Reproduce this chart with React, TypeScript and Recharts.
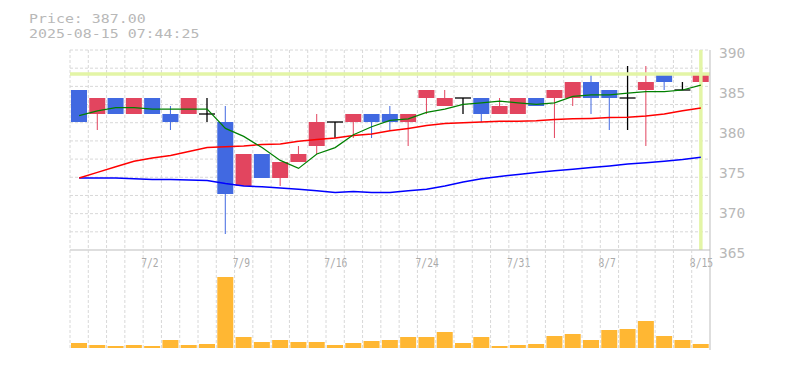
import React from 'react';
import { ComposedChart, Bar, Line, XAxis, YAxis, CartesianGrid, ReferenceLine } from 'recharts';

const dates = ['6/26','6/27','6/30','7/1','7/2','7/3','7/4','7/7','7/8','7/9','7/10','7/11','7/14','7/15','7/16','7/17','7/18','7/22','7/23','7/24','7/25','7/28','7/29','7/30','7/31','8/1','8/4','8/5','8/6','8/7','8/8','8/12','8/13','8/14','8/15'];
const opens  = [385,382,384,382,384,382,382,382,381,373,377,374,376,378,381,381,382,382,381,384,383,384,384,382,382,384,384,384,386,385,384,385,387,385,386];
const highs  = [385,384,384,384,384,383,384,384,383,377,377,376,378,382,381,382,382,383,382,385,385,384,384,384,384,384,385,386,387,385,388,388,387,386,387];
const lows   = [381,380,382,382,382,380,382,381,367,373,374,373,376,377,379,379,379,380,378,382,383,382,381,382,382,383,379,383,382,380,380,378,385,385,385];
const closes = [381,384,382,384,382,381,384,382,372,377,374,376,377,381,381,382,381,381,382,385,384,384,382,383,384,383,385,386,384,384,384,386,386,385,387];
const volumes = [5,3,2,3,2,8,3,4,71,11,6,8,6,6,3,5,7,8,11,11,16,5,11,2,3,4,12,14,8,18,19,27,12,8,4];
const ma5  = [381.8,382.4,382.8,382.8,382.6,382.6,382.6,382.6,380.2,379.2,377.8,376.2,375.2,377.0,377.8,379.4,380.4,381.2,381.4,382.2,382.6,383.2,383.4,383.6,383.4,383.2,383.4,384.2,384.4,384.4,384.6,384.8,384.8,385.0,385.6];
const ma25 = [374.0,374.7,375.4,376.1,376.5,376.8,377.3,377.8,377.9,378.0,378.2,378.25,378.6,378.8,379.0,379.3,379.5,379.9,380.2,380.55,380.8,380.9,381.0,381.1,381.1,381.15,381.3,381.4,381.45,381.55,381.6,381.75,382.0,382.4,382.75];
const ma75 = [374.0,374.0,374.0,373.9,373.8,373.8,373.75,373.7,373.3,373.0,372.9,372.75,372.6,372.4,372.2,372.3,372.2,372.2,372.4,372.6,373.0,373.5,373.9,374.2,374.45,374.7,374.9,375.1,375.3,375.5,375.75,375.9,376.1,376.3,376.6];
const tickLabels = ['7/2','7/9','7/16','7/24','7/31','8/7','8/15'];
const priceTicks = [365,370,375,380,385,390];
const lastPrice = 387;
const lastDate = '8/15';
const headerPrice = 'Price: 387.00';
const headerTime = '2025-08-15 07:44:25';

const RED = '#e2455f';
const BLUE = '#4169e1';
const GRID = '#d8d8d8';
const AXIS = '#bdbdbd';
const TEXT = '#b8b8b8';
const MONO = '"DejaVu Sans Mono", "Liberation Mono", monospace';

const data = dates.map((d, i) => ({
  date: d,
  open: opens[i],
  high: highs[i],
  low: lows[i],
  close: closes[i],
  range: [lows[i], highs[i]],
  vol: volumes[i],
  ma5: ma5[i],
  ma25: ma25[i],
  ma75: ma75[i],
}));

const vGen = (args: any) => {
  const o = args.offset;
  return Array.from({ length: 35 }, (_, k) => o.left + (k * o.width) / 35);
};
const hGen = (args: any) => {
  const o = args.offset;
  return Array.from({ length: 11 }, (_, k) => o.top + (k * o.height) / 11);
};

const Candle = (props: any) => {
  const { x, y, width, height, payload } = props;
  if (!payload || x == null) return null;
  const { open, close, high, low } = payload;
  const top = Math.min(y, y + height);
  const h = Math.abs(height);
  const ratio = h / (high - low);
  const yOf = (v: number) => top + (high - v) * ratio;
  const cx = x + width / 2;
  if (open === close) {
    return (
      <g>
        <line x1={cx} x2={cx} y1={top} y2={top + h} stroke="#000" strokeWidth={1.3} />
        <line x1={x} x2={x + width} y1={yOf(open)} y2={yOf(open)} stroke="#000" strokeWidth={1.3} />
      </g>
    );
  }
  const color = close > open ? RED : BLUE;
  const bt = yOf(Math.max(open, close));
  const bb = yOf(Math.min(open, close));
  return (
    <g>
      <line x1={cx} x2={cx} y1={top} y2={top + h} stroke={color} strokeWidth={1} />
      <rect x={x} y={bt} width={width} height={bb - bt} fill={color} />
    </g>
  );
};

const XTick = (props: any) => {
  const { x, y, payload } = props;
  const v = payload?.value;
  if (!tickLabels.includes(v)) return null;
  return (
    <text x={x - 11} y={y + 16.7} fill="#aaaaaa" fontFamily={MONO} fontSize={12}
      textLength={v.length * 5.8} lengthAdjust="spacingAndGlyphs">{v}</text>
  );
};

const YTick = (props: any) => {
  const { x, y, payload } = props;
  return (
    <text x={x + 9} y={y + 8.3} fill={TEXT} fontFamily={MONO} fontSize={14.5}>{payload.value}</text>
  );
};

export default function App() {
  return (
    <div style={{ position: 'absolute', left: 0, top: 0, width: 785, height: 370, background: '#fff', overflow: 'hidden' }}>
      <svg width={785} height={50} style={{ position: 'absolute', left: 0, top: 0 }}>
        <text x={29} y={23.3} fill={TEXT} fontFamily={MONO} fontSize={12.5}
          textLength={headerPrice.length * 8.97} lengthAdjust="spacingAndGlyphs">{headerPrice}</text>
        <text x={29} y={37.8} fill={TEXT} fontFamily={MONO} fontSize={12.5}
          textLength={headerTime.length * 8.97} lengthAdjust="spacingAndGlyphs">{headerTime}</text>
      </svg>
      <div style={{ position: 'absolute', left: 0, top: 0 }}>
        <ComposedChart width={785} height={270} data={data} margin={{ top: 50, right: 0, bottom: 0, left: 70 }}>
          <CartesianGrid stroke={GRID} strokeDasharray="3 2" verticalCoordinatesGenerator={vGen} horizontalCoordinatesGenerator={hGen} />
          <XAxis dataKey="date" interval={0} height={20} tickLine={false} tickSize={0} tickMargin={0}
            axisLine={{ stroke: AXIS }} tick={<XTick />} />
          <YAxis orientation="right" width={75} domain={[365, 390]} ticks={priceTicks} allowDataOverflow
            tickLine={false} tickSize={0} tickMargin={0} axisLine={{ stroke: AXIS }} tick={<YTick />} />
          <ReferenceLine y={lastPrice} stroke="#e3f5a6" strokeWidth={3.5} />
          <ReferenceLine x={lastDate} stroke="#e3f5a6" strokeWidth={3.5} />
          <Line dataKey="ma75" stroke="#0000ff" strokeWidth={1.5} dot={false} isAnimationActive={false} type="linear" />
          <Line dataKey="ma25" stroke="#ff0000" strokeWidth={1.5} dot={false} isAnimationActive={false} type="linear" />
          <Line dataKey="ma5" stroke="#008000" strokeWidth={1.2} dot={false} isAnimationActive={false} type="linear" />
          <Bar dataKey="range" barSize={16} shape={<Candle />} isAnimationActive={false} />
        </ComposedChart>
      </div>
      <div style={{ position: 'absolute', left: 0, top: 250 }}>
        <ComposedChart width={785} height={100} data={data} margin={{ top: 0, right: 0, bottom: 0, left: 70 }}>
          <CartesianGrid stroke={GRID} strokeDasharray="3 2" horizontal={false} verticalCoordinatesGenerator={vGen} />
          <XAxis dataKey="date" hide />
          <YAxis orientation="right" width={75} domain={[-2, 98]} allowDataOverflow tick={false} tickLine={false}
            axisLine={{ stroke: AXIS }} />
          <Bar dataKey="vol" fill="#ffb733" barSize={16} isAnimationActive={false} />
        </ComposedChart>
      </div>
    </div>
  );
}
